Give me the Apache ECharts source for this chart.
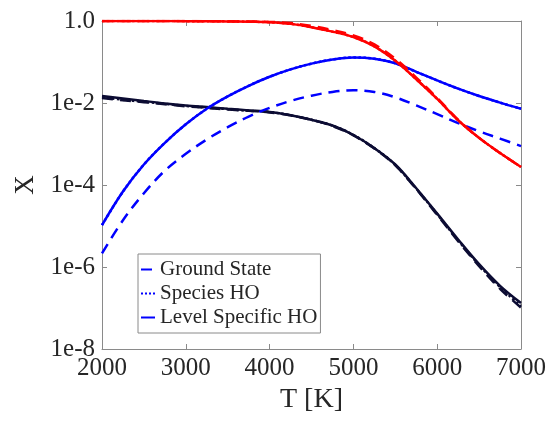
<!DOCTYPE html>
<html>
<head>
<meta charset="utf-8">
<script src="https://cdn.jsdelivr.net/npm/echarts@6/dist/echarts.min.js"></script>
<style>
  html, body { margin: 0; padding: 0; background: #ffffff; }
  #chart { width: 553px; height: 422px; }
</style>
</head>
<body>
<div id="chart"></div>
<script>
// Temperature grid [K]
const temperatures = [2000, 2250, 2500, 2750, 3000, 3250, 3500, 3750, 4000, 4250, 4500,
                      4750, 5000, 5250, 5500, 5750, 6000, 6250, 6500, 6750, 7000];

// Red species
const redGround = [1.0, 1.0, 1.0, 0.998, 0.995, 0.991, 0.984, 0.971, 0.951, 0.891, 0.759,
                   0.603, 0.447, 0.269, 0.120, 4.17e-2, 1.32e-2, 3.89e-3, 1.41e-3, 6.03e-4, 2.75e-4];
const redSpecies = [1.0, 1.0, 1.0, 0.998, 0.993, 0.989, 0.977, 0.959, 0.933, 0.851, 0.708,
                    0.550, 0.407, 0.240, 0.107, 3.80e-2, 1.26e-2, 3.80e-3, 1.41e-3, 6.03e-4, 2.75e-4];
const redLevel = [1.0, 1.0, 1.0, 0.998, 0.993, 0.989, 0.977, 0.959, 0.933, 0.851, 0.708,
                  0.550, 0.407, 0.240, 0.107, 3.80e-2, 1.26e-2, 3.80e-3, 1.41e-3, 6.03e-4, 2.75e-4];

// Blue species
const blueGround = [2.14e-6, 1.38e-5, 6.31e-5, 2.24e-4, 5.75e-4, 1.29e-3, 2.57e-3, 4.68e-3, 7.59e-3, 1.12e-2, 1.51e-2,
                    1.86e-2, 2.04e-2, 1.86e-2, 1.38e-2, 8.71e-3, 5.37e-3, 3.24e-3, 2.04e-3, 1.35e-3, 8.91e-4];
const blueSpecies = [1.05e-5, 6.92e-5, 3.16e-4, 1.07e-3, 3.02e-3, 7.24e-3, 1.45e-2, 2.63e-2, 4.37e-2, 6.61e-2, 9.12e-2,
                     0.115, 0.129, 0.120, 9.33e-2, 5.75e-2, 3.55e-2, 2.24e-2, 1.48e-2, 1.02e-2, 7.24e-3];
const blueLevel = [1.05e-5, 6.92e-5, 3.16e-4, 1.07e-3, 3.02e-3, 7.24e-3, 1.45e-2, 2.63e-2, 4.37e-2, 6.61e-2, 9.12e-2,
                   0.115, 0.129, 0.120, 9.33e-2, 5.75e-2, 3.55e-2, 2.24e-2, 1.48e-2, 1.02e-2, 7.24e-3];

// Dark species
const darkGround = [1.32e-2, 1.17e-2, 1.05e-2, 9.33e-3, 8.32e-3, 7.59e-3, 6.92e-3, 6.46e-3, 5.89e-3, 5.01e-3, 3.89e-3,
                    2.75e-3, 1.62e-3, 7.76e-4, 3.02e-4, 7.94e-5, 1.86e-5, 4.27e-6, 1.05e-6, 2.95e-7, 1.02e-7];
const darkSpecies = [1.38e-2, 1.20e-2, 1.07e-2, 9.55e-3, 8.51e-3, 7.76e-3, 7.08e-3, 6.46e-3, 6.03e-3, 5.01e-3, 3.89e-3,
                     2.82e-3, 1.66e-3, 7.94e-4, 3.09e-4, 8.13e-5, 1.95e-5, 4.47e-6, 1.12e-6, 3.24e-7, 1.12e-7];
const darkLevel = [1.48e-2, 1.29e-2, 1.12e-2, 9.77e-3, 8.71e-3, 7.94e-3, 7.24e-3, 6.61e-3, 6.03e-3, 5.01e-3, 3.89e-3,
                   2.82e-3, 1.66e-3, 7.94e-4, 3.16e-4, 8.32e-5, 2.00e-5, 4.68e-6, 1.17e-6, 3.47e-7, 1.32e-7];

// Axis ticks
const xTickValues = [2000, 3000, 4000, 5000, 6000, 7000];
const yTickValues = [1e-8, 1e-6, 1e-4, 1e-2, 1];
const yTickLabels = ['1e-8', '1e-6', '1e-4', '1e-2', '1.0'];

const legendNames = ['Ground State', 'Species HO', 'Level Specific HO'];

const FONT = 'Liberation Serif, Times New Roman, serif';
const TEXT = '#262626';
const FRAME = '#8a8a8a';
const DASH = [11, 7];

function pairs(values) {
  return temperatures.map((t, i) => [t, values[i]]);
}

function yLabel(v) {
  const e = Math.round(Math.log10(v));
  const idx = yTickValues.findIndex(t => Math.round(Math.log10(t)) === e);
  return idx >= 0 ? yTickLabels[idx] : '';
}

function line(name, values, color, type, z) {
  return {
    name: name,
    type: 'line',
    data: pairs(values),
    symbol: 'none',
    showSymbol: false,
    smooth: 0.35,
    silent: true,
    z: z,
    itemStyle: { color: color },
    lineStyle: { color: color, width: 2.5, type: type }
  };
}

const chart = echarts.init(document.getElementById('chart'), null, { renderer: 'canvas' });

const tickStyle = { show: true, inside: true, length: 5, lineStyle: { color: FRAME, width: 1 } };

chart.setOption({
  animation: false,
  backgroundColor: '#ffffff',
  grid: { left: 102, top: 21, width: 419, height: 328, containLabel: false },
  legend: {
    data: legendNames,
    orient: 'vertical',
    left: 138,
    top: 254,
    padding: [5, 3, 5, 2],
    itemGap: 3,
    itemWidth: 14,
    itemHeight: 14,
    backgroundColor: '#ffffff',
    borderColor: FRAME,
    borderWidth: 1,
    borderRadius: 0,
    selectedMode: false,
    // line-only keys: hide the marker glyph
    itemStyle: { opacity: 0 },
    textStyle: { fontFamily: FONT, fontSize: 21, color: TEXT }
  },
  xAxis: [
    {
      type: 'value',
      min: 2000,
      max: 7000,
      interval: 1000,
      position: 'bottom',
      name: 'T [K]',
      nameLocation: 'middle',
      nameGap: 37,
      nameTextStyle: { fontFamily: FONT, fontSize: 28, color: TEXT },
      axisLine: { show: true, onZero: false, lineStyle: { color: FRAME, width: 1 } },
      axisTick: tickStyle,
      splitLine: { show: false },
      axisLabel: {
        fontFamily: FONT, fontSize: 25, color: TEXT, margin: 7,
        customValues: xTickValues,
        formatter: v => String(v)
      }
    },
    {
      type: 'value',
      min: 2000,
      max: 7000,
      interval: 1000,
      position: 'top',
      axisLine: { show: true, onZero: false, lineStyle: { color: FRAME, width: 1 } },
      axisTick: tickStyle,
      splitLine: { show: false },
      axisLabel: { show: false }
    }
  ],
  yAxis: [
    {
      type: 'log',
      logBase: 10,
      min: 1e-8,
      max: 1,
      position: 'left',
      name: 'X',
      nameLocation: 'middle',
      nameRotate: 90,
      nameGap: 63,
      nameTextStyle: { fontFamily: FONT, fontSize: 27, color: TEXT },
      axisLine: { show: true, onZero: false, lineStyle: { color: FRAME, width: 1 } },
      axisTick: Object.assign({ customValues: yTickValues }, tickStyle),
      splitLine: { show: false },
      axisLabel: {
        fontFamily: FONT, fontSize: 25, color: TEXT, margin: 7,
        customValues: yTickValues,
        formatter: yLabel
      }
    },
    {
      type: 'log',
      logBase: 10,
      min: 1e-8,
      max: 1,
      position: 'right',
      axisLine: { show: true, onZero: false, lineStyle: { color: FRAME, width: 1 } },
      axisTick: Object.assign({ customValues: yTickValues }, tickStyle),
      splitLine: { show: false },
      axisLabel: { show: false }
    }
  ],
  series: [
    line('dark-species', darkSpecies, '#0c0c33', 'dotted', 2),
    line('dark-level', darkLevel, '#0c0c33', 'solid', 3),
    line('dark-ground', darkGround, '#0c0c33', DASH, 4),
    line('Species HO', blueSpecies, '#0000ff', 'dotted', 5),
    line('Level Specific HO', blueLevel, '#0000ff', 'solid', 6),
    line('Ground State', blueGround, '#0000ff', DASH, 7),
    line('red-species', redSpecies, '#ff0000', 'dotted', 8),
    line('red-level', redLevel, '#ff0000', 'solid', 9),
    line('red-ground', redGround, '#ff0000', DASH, 10)
  ]
});
</script>
</body>
</html>
